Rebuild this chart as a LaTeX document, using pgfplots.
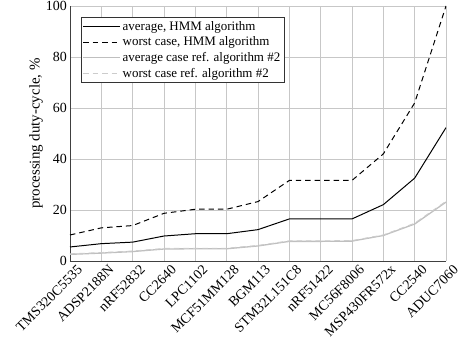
\documentclass[border=0pt]{standalone}
\usepackage{fontspec}
\setmainfont{Liberation Serif}
\usepackage{pgfplots}
\pgfplotsset{compat=1.18}
\newcommand{\lf}{\fontsize{13}{15}\selectfont}
\begin{document}
\begin{tikzpicture}
\begin{axis}[
  scale only axis,
  width=376bp, height=255bp,
  xmin=0, xmax=12, ymin=0, ymax=100,
  xtick={0,...,12},
  xticklabels={TMS320C5535,ADSP2188N,nRF52832,CC2640,LPC1102,MCF51MM128,BGM113,STM32L151C8,nRF51422,MC56F8006,MSP430FR572x,CC2540,ADUC7060},
  xticklabel style={xshift=6.5bp, yshift=-3bp, rotate=45, anchor=north east, inner sep=0pt, font=\fontsize{14}{16}\selectfont},
  yticklabel style={font=\fontsize{14}{16}\selectfont, inner sep=3pt},
  ytick={0,20,...,100},
  /pgf/number format/assume math mode=true,
  ylabel={processing duty-cycle, \%},
  ylabel style={font=\fontsize{15}{17}\selectfont, at={(axis description cs:-0.09,0.5)}, anchor=center},
  grid=major,
  grid style={black!22, line width=0.8pt},
  axis x line*=bottom, axis y line*=left,
  axis line style={black!75, line width=0.7pt},
  major tick length=0pt,
  legend style={draw=black!80, at={(axis description cs:0.029,0.955)}, anchor=north west, inner sep=1.5pt, row sep=1.2pt},
  legend cell align=left,
  legend image code/.code={\draw[#1] (0cm,0cm) -- (1.3cm,0cm);},
]
\addplot[black, line width=1pt] coordinates {(0,5.5)(1,6.8)(2,7.4)(3,9.8)(4,10.7)(5,10.7)(6,12.3)(7,16.5)(8,16.5)(9,16.5)(10,22.1)(11,32.5)(12,52.3)};
\addlegendentry{\lf average, HMM algorithm}
\addplot[black, line width=1pt, dash pattern=on 5.5pt off 4pt] coordinates {(0,10.2)(1,13)(2,13.9)(3,18.7)(4,20.3)(5,20.3)(6,23.3)(7,31.6)(8,31.6)(9,31.6)(10,42)(11,62)(12,100)};
\addlegendentry{\lf worst case, HMM algorithm}
\addplot[black!25, line width=1.3pt] coordinates {(0,2.6)(1,3.1)(2,3.7)(3,4.7)(4,4.8)(5,4.8)(6,5.9)(7,7.7)(8,7.7)(9,7.8)(10,10)(11,14.5)(12,23.1)};
\addlegendentry{\lf average case ref. algorithm \#2}
\addplot[black!20, line width=1pt, dash pattern=on 5.5pt off 4pt] coordinates {(0,2.8)(1,3.3)(2,3.9)(3,4.9)(4,5.0)(5,5.0)(6,6.1)(7,7.9)(8,7.9)(9,8.0)(10,10.2)(11,14.8)(12,23.4)};
\addlegendentry{\lf worst case ref. algorithm \#2}
\coordinate (o) at (rel axis cs:0,0);
\end{axis}
\pgfresetboundingbox
\path[use as bounding box] ([shift={(-70bp,-81bp)}]o) rectangle ([shift={(391bp,261bp)}]o);
\end{tikzpicture}
\end{document}
